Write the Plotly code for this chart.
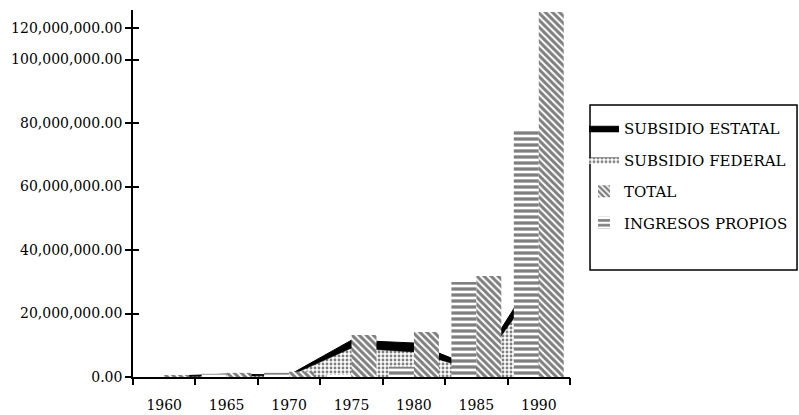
import plotly.graph_objects as go

# ---- data ----
years = ['1960', '1965', '1970', '1975', '1980', '1985', '1990']
subsidio_estatal = [200000, 900000, 600000, 11600000, 10700000, 2800000, 34000000]
subsidio_federal = [0, 400000, 300000, 9100000, 7900000, 2000000, 29500000]
total = [500000, 1300000, 1700000, 13200000, 14200000, 31800000, 115000000]
ingresos_propios = [200000, 1000000, 1300000, 500000, 3200000, 29900000, 77800000]

y_tick_vals = [0, 20000000, 40000000, 60000000, 80000000, 100000000, 110000000]
y_tick_text = ['0.00', '20,000,000.00', '40,000,000.00', '60,000,000.00',
               '80,000,000.00', '100,000,000.00', '120,000,000.00']
y_max = 115600000

FONT = 'DejaVu Serif'

fig = go.Figure()

# areas (base subplot, drawn underneath the bars)
fig.add_trace(go.Scatter(
    x=years, y=subsidio_estatal, name='SUBSIDIO ESTATAL', mode='lines',
    fill='tozeroy', fillcolor='black', line=dict(color='black', width=1),
    xaxis='x', yaxis='y', legendgroup='a', legendrank=1))
fig.add_trace(go.Scatter(
    x=years, y=subsidio_federal, name='SUBSIDIO FEDERAL', mode='lines',
    fill='tozeroy', fillcolor='white',
    fillpattern=dict(shape='.', fgcolor='black', bgcolor='white', size=4, solidity=0.4),
    line=dict(color='black', width=0.5),
    xaxis='x', yaxis='y', legendgroup='b', legendrank=2))

# bars (overlaying subplot, drawn on top)
fig.add_trace(go.Bar(
    x=years, y=ingresos_propios, name='INGRESOS PROPIOS',
    marker=dict(color='white', line=dict(color='black', width=0),
                pattern=dict(shape='-', fgcolor='black', bgcolor='white', size=6, solidity=0.55)),
    xaxis='x2', yaxis='y2', legendgroup='d', legendrank=4))
fig.add_trace(go.Bar(
    x=years, y=total, name='TOTAL',
    marker=dict(color='white', line=dict(color='black', width=0),
                pattern=dict(shape='\\', fgcolor='black', bgcolor='white', size=5, solidity=0.6)),
    xaxis='x2', yaxis='y2', legendgroup='c', legendrank=3))

fig.update_layout(
    width=799, height=415,
    margin=dict(l=133, r=229, t=10, b=38, autoexpand=False),
    paper_bgcolor='white', plot_bgcolor='white',
    font=dict(family=FONT, size=14, color='black'),
    barmode='group', bargap=0.2, bargroupgap=0,
    showlegend=True,
    legend=dict(x=1.032, y=0.722, xanchor='left', yanchor='top',
                font=dict(family=FONT, size=15, color='black'),
                traceorder='grouped', tracegroupgap=9,
                bgcolor='rgba(0,0,0,0)', borderwidth=0),
    xaxis=dict(type='category', categoryorder='array', categoryarray=years,
               range=[-0.5, 6.5], showticklabels=False, ticks='', automargin=False,
               showline=True, linecolor='black', linewidth=1.5,
               showgrid=False, zeroline=False),
    yaxis=dict(range=[0, y_max], tickvals=y_tick_vals, ticktext=y_tick_text,
               ticks='outside', ticklen=6, tickcolor='black', tickwidth=1.5,
               showline=True, linecolor='black', linewidth=1.5, automargin=False,
               showgrid=False, zeroline=False,
               tickfont=dict(family=FONT, size=14)),
    xaxis2=dict(type='category', categoryorder='array', categoryarray=years,
                overlaying='x', anchor='y2', side='bottom', automargin=False,
                range=[-0.5, 6.5], tickson='boundaries',
                ticks='outside', ticklen=7, tickcolor='black', tickwidth=1.5,
                ticklabelstandoff=18,
                tickfont=dict(family=FONT, size=14),
                showline=False, showgrid=False, zeroline=False),
    yaxis2=dict(range=[0, y_max], overlaying='y', side='left', anchor='x2',
                tickvals=y_tick_vals, showticklabels=False, automargin=False,
                ticks='inside', ticklen=6, tickcolor='black', tickwidth=1.5,
                showline=False, showgrid=False, zeroline=False),
    shapes=[dict(type='rect', xref='paper', yref='paper',
                 x0=1.0458, x1=1.5195, y0=0.2916, y1=0.7411,
                 line=dict(color='black', width=1.5), fillcolor='rgba(0,0,0,0)')],
)

fig.write_html('out.html', config={'displayModeBar': False},
               post_script="document.body.style.margin='0px';document.body.style.overflow='hidden';")
